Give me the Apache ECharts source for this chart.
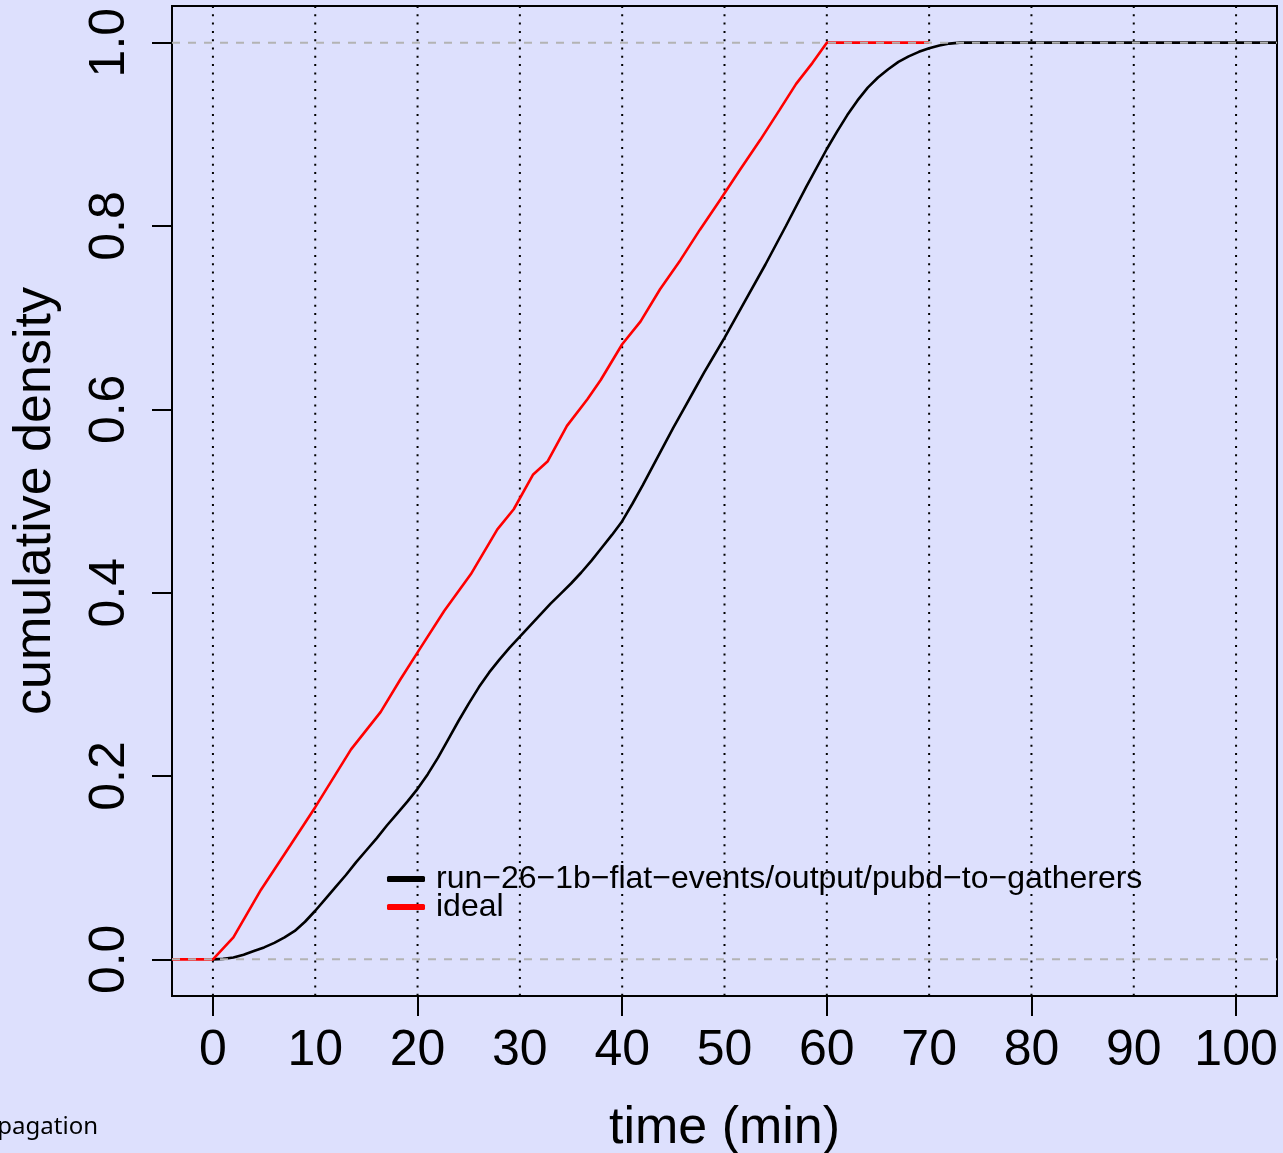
<!DOCTYPE html>
<html>
<head>
<meta charset="utf-8">
<script src="https://cdn.jsdelivr.net/npm/echarts@6/dist/echarts.min.js"></script>
<style>
html,body{margin:0;padding:0;background:#dde0fd;}
#chart{width:1283px;height:1153px;}
</style>
</head>
<body>
<div id="chart"></div>
<script>
// ---- data ----
const seriesNames = ['run\u221226\u22121b\u2212flat\u2212events/output/pubd\u2212to\u2212gatherers', 'ideal'];
const runTime = [0, 1, 2, 3, 4, 5, 6, 7, 8, 9, 10, 11, 12, 13, 14, 15, 16, 17, 18, 19, 20, 21, 22, 23, 24, 25, 26, 27, 28, 29, 30, 31, 32, 33, 34, 35, 36, 37, 38, 39, 40, 41, 42, 43, 44, 45, 46, 47, 48, 49, 50, 52, 54, 56, 58, 60, 61, 62, 63, 64, 65, 66, 67, 68, 69, 70, 71, 72, 73, 104];
const runValue = [0, 0.0005, 0.002, 0.005, 0.009, 0.013, 0.018, 0.024, 0.031, 0.041, 0.053, 0.066, 0.079, 0.092, 0.106, 0.119, 0.132, 0.146, 0.159, 0.172, 0.186, 0.202, 0.220, 0.240, 0.260, 0.279, 0.297, 0.313, 0.327, 0.340, 0.352, 0.364, 0.376, 0.388, 0.399, 0.410, 0.422, 0.435, 0.449, 0.463, 0.478, 0.497, 0.517, 0.538, 0.559, 0.580, 0.600, 0.620, 0.640, 0.659, 0.678, 0.718, 0.758, 0.800, 0.843, 0.884, 0.903, 0.921, 0.937, 0.951, 0.962, 0.971, 0.979, 0.985, 0.990, 0.994, 0.997, 0.999, 1.0, 1.0];
const idealTime = [-4, 0, 2, 4.7, 7.6, 10, 13.5, 16.4, 18.3, 20.3, 22.6, 25.2, 27.8, 29.4, 31.3, 32.7, 34.6, 36.6, 37.9, 40, 41.8, 43.7, 45.7, 47.6, 49.6, 51.5, 53.5, 55.4, 57.0, 58.6, 60, 70];
const idealValue = [0, 0, 0.024, 0.076, 0.125, 0.166, 0.229, 0.270, 0.305, 0.340, 0.380, 0.420, 0.469, 0.491, 0.529, 0.543, 0.582, 0.611, 0.632, 0.671, 0.696, 0.731, 0.763, 0.796, 0.829, 0.861, 0.894, 0.927, 0.955, 0.978, 1.0, 1.0];
const xRange = [-4, 104];
const yRange = [-0.04, 1.04];
const xTickValues = [0, 20, 40, 60, 80, 100];
const xLabelValues = [0, 10, 20, 30, 40, 50, 60, 70, 80, 90, 100];
const xLabelTexts = ['0', '10', '20', '30', '40', '50', '60', '70', '80', '90', '100'];
const xGridValues = [0, 10, 20, 30, 40, 50, 60, 70, 80, 90, 100];
const yTickValues = [0, 0.2, 0.4, 0.6, 0.8, 1.0];
const yLabelTexts = ['0.0', '0.2', '0.4', '0.6', '0.8', '1.0'];
const hRefValues = [0, 1];

const FONT = '"Liberation Sans", Arial, Helvetica, sans-serif';
const chart = echarts.init(document.getElementById('chart'), null, {renderer: 'canvas'});

function zip(a, b) { return a.map((v, i) => [v, b[i]]); }

const option = {
  backgroundColor: '#dde0fd',
  animation: false,
  grid: {
    left: 172, right: 6, top: 6, bottom: 157,
    show: true, borderColor: '#000', borderWidth: 2, backgroundColor: 'transparent',
    containLabel: false, outerBoundsMode: 'none'
  },
  legend: {
    orient: 'vertical',
    left: 382, top: 858,
    itemWidth: 38, itemHeight: 6, itemGap: -4,
    icon: 'roundRect',
    textStyle: {fontFamily: FONT, fontSize: 32, color: '#000', padding: [0, 0, 0, 6]},
    data: seriesNames
  },
  xAxis: {
    type: 'value', min: xRange[0], max: xRange[1],
    axisLine: {show: false, onZero: false},
    splitLine: {show: false},
    axisTick: {show: true, customValues: xTickValues, length: 20, inside: false, lineStyle: {color: '#000', width: 2}},
    axisLabel: {
      show: true, customValues: xLabelValues, margin: 30,
      fontFamily: FONT, fontSize: 50, color: '#000',
      formatter: v => xLabelTexts[xLabelValues.indexOf(v)] ?? ''
    },
    name: 'time (min)', nameLocation: 'middle', nameGap: 107,
    nameTextStyle: {fontFamily: FONT, fontSize: 52, color: '#000'}
  },
  yAxis: {
    type: 'value', min: yRange[0], max: yRange[1],
    axisLine: {show: false, onZero: false},
    splitLine: {show: false},
    axisTick: {show: true, customValues: yTickValues, length: 20, inside: false, lineStyle: {color: '#000', width: 2}},
    axisLabel: {
      show: true, customValues: yTickValues, margin: 37, rotate: 90,
      fontFamily: FONT, fontSize: 50, color: '#000',
      formatter: v => { const i = yTickValues.findIndex(t => Math.abs(t - v) < 1e-9); return i >= 0 ? yLabelTexts[i] : ''; }
    },
    name: 'cumulative density', nameLocation: 'middle', nameGap: 110,
    nameTextStyle: {fontFamily: FONT, fontSize: 52, color: '#000'}
  },
  graphic: [{
    type: 'text', right: 1283 - 98, top: 1115,
    style: {text: 'pagation', font: '24px "Noto Sans", "Liberation Sans", sans-serif', fill: '#000'}
  }],
  series: [
    {
      name: 'vgrid', type: 'custom', silent: true, z: 1,
      data: xGridValues.map(v => [v]),
      encode: {x: 0},
      renderItem: (params, api) => {
        const cs = params.coordSys;
        const x = api.coord([api.value(0), 0])[0];
        return {type: 'line', shape: {x1: x, y1: cs.y, x2: x, y2: cs.y + cs.height},
          style: {stroke: '#000', lineWidth: 2, lineDash: [2, 6.3], lineCap: 'butt'}};
      }
    },
    {
      name: seriesNames[0], type: 'line', data: zip(runTime, runValue),
      showSymbol: false, symbol: 'none', z: 3,
      lineStyle: {color: '#000', width: 2.6}, itemStyle: {color: '#000'}
    },
    {
      name: seriesNames[1], type: 'line', data: zip(idealTime, idealValue),
      showSymbol: false, symbol: 'none', z: 4,
      lineStyle: {color: '#ff0000', width: 2.6}, itemStyle: {color: '#ff0000'}
    },
    {
      name: 'href', type: 'custom', silent: true, z: 5,
      data: hRefValues.map(v => [v]),
      encode: {y: 0},
      renderItem: (params, api) => {
        const cs = params.coordSys;
        const y = api.coord([0, api.value(0)])[1];
        return {type: 'line', shape: {x1: cs.x, y1: y, x2: cs.x + cs.width, y2: y},
          style: {stroke: '#b3b3b3', lineWidth: 2, lineDash: [8, 8]}};
      }
    }
  ]
};
chart.setOption(option);
</script>
</body>
</html>
